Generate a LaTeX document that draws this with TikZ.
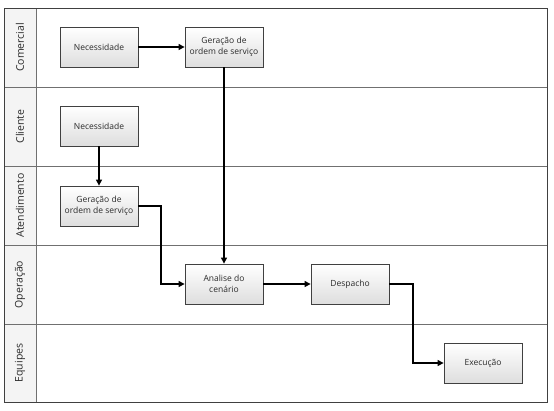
\documentclass[tikz,border=0pt]{standalone}
\usepackage{fontspec}
\setmainfont{Open Sans}
\usetikzlibrary{arrows.meta,shadows}
\definecolor{lanegray}{HTML}{707070}
\definecolor{framegray}{HTML}{404040}
\definecolor{labelfill}{HTML}{F4F4F4}
\definecolor{txt}{HTML}{2A2A2A}
\tikzset{
  box/.style={draw=framegray, line width=0.8pt, minimum width=78pt, minimum height=40pt,
    top color=white, bottom color=black!13, align=center, text=txt,
    font=\fontsize{8.5}{10.5}\selectfont, inner sep=1pt,
    drop shadow={shadow xshift=1.2pt, shadow yshift=-1.2pt, fill=black!25, opacity=0.6}},
  flow/.style={draw=black, line width=1.1pt, -{Triangle[length=6pt,width=6pt]}},
  lanelabel/.style={rotate=90, text=txt, font=\fontsize{10.5}{12}\selectfont},
}
\begin{document}
\begin{tikzpicture}[x=1pt,y=-1pt]
\useasboundingbox (0,0) rectangle (554,410);
\fill[white] (0,0) rectangle (554,410);
% label column
\fill[labelfill] (4,8) rectangle (36,402);
% lane lines
\foreach \yy in {87,166,245,324}
  \draw[lanegray, line width=1pt] (4,\yy) -- (547,\yy);
\draw[lanegray, line width=1pt] (36,8) -- (36,402);
\draw[framegray, line width=1pt] (4,8) rectangle (547,402);
% lane labels
\node[lanelabel] (lcom) at (20,47.5) {Comercial};
\node[lanelabel] (lcli) at (20,126.5) {Cliente};
\node[lanelabel] (late) at (20,205.5) {Atendimento};
\node[lanelabel] (lope) at (20,284.5) {Operação};
\node[lanelabel] (lequ) at (20,363) {Equipes};
% boxes
\node[box] (nec1) at (99,47) {Necessidade};
\node[box] (ger1) at (224,47) {Geração de\\ordem de serviço};
\node[box] (nec2) at (99,126) {Necessidade};
\node[box] (ger2) at (99,206) {Geração de\\ordem de serviço};
\node[box] (ana) at (224,284) {Analise do\\cenário};
\node[box] (desp) at (350,284) {Despacho};
\node[box] (exe) at (483,363) {Execução};
% connectors
\draw[flow] (nec1) -- (ger1);
\draw[flow] (ger1) -- (ana);
\draw[flow] (nec2) -- (ger2);
\draw[flow] (ger2.east) -| (161,284) -- (ana.west);
\draw[flow] (ana) -- (desp);
\draw[flow] (desp.east) -| (413,363) -- (exe.west);
\end{tikzpicture}
\end{document}
